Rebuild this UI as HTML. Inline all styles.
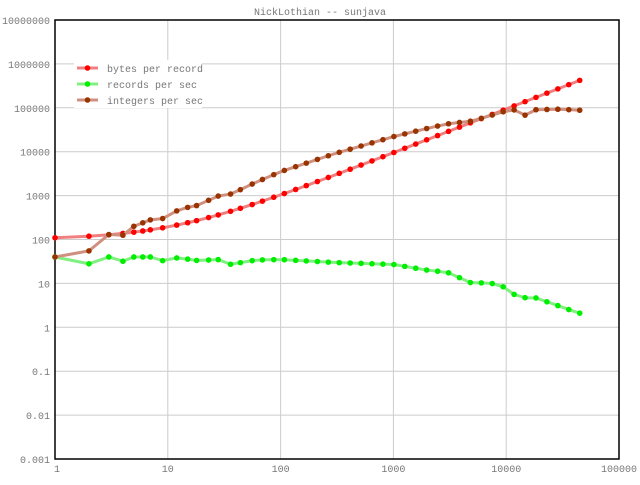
<!DOCTYPE html>
<html><head><style>body{margin:0;background:#fff}svg text{font-family:"Liberation Mono",monospace;fill:#777;font-size:10px}</style></head>
<body><svg id="s" width="640" height="480" xmlns="http://www.w3.org/2000/svg"></svg>
<script>
const L=55,R=619,T=20,B=459;
const X=v=>L+Math.log10(v)*(R-L)/5, Y=v=>T+(7-Math.log10(v))*(B-T)/10;
let h='<rect width="640" height="480" fill="#fff"/>';
for(let d=0;d<=5;d++){const x=X(10**d);h+=`<line x1="${x}" y1="${T}" x2="${x}" y2="${B}" stroke="#ccc"/>`;
h+=`<text x="${d==0?x+2:x}" y="472" text-anchor="middle">${10**d}</text>`;}
const yl=["0.001","0.01","0.1","1","10","100","1000","10000","100000","1000000","10000000"];
for(let d=-3;d<=7;d++){const y=Y(10**d);h+=`<line x1="${L}" y1="${y}" x2="${R}" y2="${y}" stroke="#ccc"/>`;
h+=`<text x="50" y="${y+4}" text-anchor="end">${yl[d+3]}</text>`;}
h+=`<rect x="${L}" y="${T}" width="${R-L}" height="${B-T}" fill="none" stroke="#000" stroke-width="1.5"/>`;
h+=`<text x="320" y="15" text-anchor="middle">NickLothian -- sunjava</text>`;
function interp(pts,x){const lx=Math.log10(x);for(let i=0;i<pts.length-1;i++){const a=Math.log10(pts[i][0]),b=Math.log10(pts[i+1][0]);if(lx<=b){const t=(lx-a)/(b-a);return 10**(Math.log10(pts[i][1])*(1-t)+Math.log10(pts[i+1][1])*t);}}return pts[pts.length-1][1];}
let xs=[];for(let k=0;k<=48;k++){const v=Math.max(1,Math.round(1.25**k));if(!xs.includes(v))xs.push(v);}
const bytes=x=>100+9.4*x;
const recP=[[1,40],[2,28],[3,40],[4,32],[5,40],[7,40],[9,33],[11,38],[14,38],[17,32],[20,36],[25,33],[30,36],[35,27],[45,30],[60,34],[100,35],[300,30],[1000,27],[2000,20],[3000,18],[5000,10],[7000,10.5],[10000,8],[13000,4.5],[17000,5],[30000,3],[44000,2.1]];
const intP=[[1,40],[2,55],[3,130],[4,125],[5,200],[7,280],[9,300],[11,400],[14,550],[17,520],[20,750],[25,800],[30,1100],[35,1050],[45,1400],[60,2000],[100,3500],[300,9000],[1000,22000],[2000,34000],[3000,43000],[5000,50000],[10000,85000],[12000,90000],[14000,62000],[17000,90000],[30000,93000],[44000,88000]];
function series(f,lc,mc){let p=xs.map(x=>[X(x),Y(f(x))]);h+=`<polyline points="${p.map(q=>q.join(',')).join(' ')}" fill="none" stroke="${lc}" stroke-width="3"/>`;
p.forEach(q=>h+=`<circle cx="${q[0]}" cy="${q[1]}" r="2.8" fill="${mc}"/>`);}
series(bytes,"#f08080","#ff0000");
series(x=>interp(recP,x),"#80f080","#00ee00");
series(x=>interp(intP,x),"#d09080","#993300");
h+=`<rect x="74" y="60" width="128" height="48" fill="#fff"/>`;
[["bytes per record","#f08080","#ff0000"],["records per sec","#80f080","#00ee00"],["integers per sec","#d09080","#993300"]].forEach((e,i)=>{const y=68+i*16;
h+=`<line x1="77" y1="${y}" x2="98" y2="${y}" stroke="${e[1]}" stroke-width="3"/><circle cx="87.5" cy="${y}" r="2.8" fill="${e[2]}"/><text x="107" y="${y+4}">${e[0]}</text>`;});
document.getElementById('s').innerHTML=h;
</script></body></html>
